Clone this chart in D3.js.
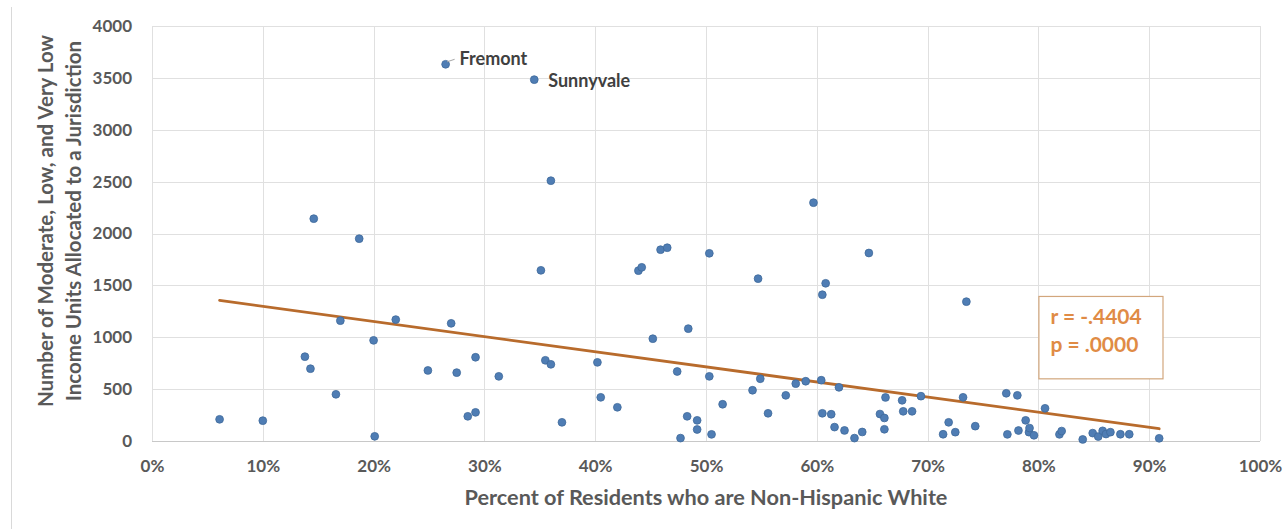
<!DOCTYPE html>
<html>
<head>
<meta charset="utf-8">
<script src="https://cdn.jsdelivr.net/npm/d3@7"></script>
<style>
  html, body { margin: 0; padding: 0; background: #ffffff; }
  svg { display: block; font-family: Lato, "Open Sans", sans-serif; }
</style>
</head>
<body>
<svg id="chart" width="1288" height="529"></svg>
<script>
// Share of residents who are non-Hispanic white, per jurisdiction (fraction)
const pctWhite = [
  0.061, 0.100, 0.138, 0.143, 0.146, 0.166, 0.170, 0.187, 0.200, 0.201,
  0.220, 0.249, 0.265, 0.270, 0.275, 0.285, 0.292, 0.292, 0.313, 0.345,
  0.351, 0.355, 0.360, 0.360, 0.370, 0.402, 0.405, 0.420, 0.439, 0.442,
  0.452, 0.459, 0.465, 0.474, 0.477, 0.483, 0.484, 0.492, 0.492, 0.503,
  0.503, 0.505, 0.515, 0.542, 0.547, 0.549, 0.556, 0.572, 0.581, 0.590,
  0.597, 0.604, 0.605, 0.605, 0.608, 0.613, 0.616, 0.620, 0.625, 0.634,
  0.641, 0.647, 0.657, 0.661, 0.661, 0.662, 0.677, 0.678, 0.686, 0.694,
  0.714, 0.719, 0.725, 0.732, 0.735, 0.743, 0.771, 0.772, 0.781, 0.782,
  0.7885, 0.7915, 0.792, 0.796, 0.806, 0.819, 0.821, 0.840, 0.849, 0.854,
  0.858, 0.861, 0.865, 0.874, 0.882, 0.909
];
// Moderate, low and very low income units allocated to each jurisdiction
const units = [
  209, 196, 813, 697, 2143, 450, 1160, 1950, 970, 45,
  1170, 680, 3631, 1134, 659, 238, 276, 807, 623, 3483,
  1645, 778, 739, 2509, 180, 758, 421, 325, 1642, 1674,
  986, 1844, 1863, 670, 28, 238, 1083, 199, 111, 1809,
  623, 64, 354, 489, 1565, 600, 267, 440, 553, 576,
  2297, 586, 1410, 267, 1520, 258, 134, 517, 102, 28,
  87, 1812, 260, 222, 113, 420, 392, 286, 286, 432,
  65, 180, 85, 421, 1343, 143, 460, 64, 440, 101,
  199, 85, 125, 55, 315, 64, 96, 15, 76, 43,
  98, 67, 85, 65, 65, 26
];
// Named jurisdictions (index into the arrays above)
const calloutNames = ["Fremont", "Sunnyvale"];
const calloutIndex = [12, 19];

const xTicks = [0, 0.1, 0.2, 0.3, 0.4, 0.5, 0.6, 0.7, 0.8, 0.9, 1.0];
const yTicks = [0, 500, 1000, 1500, 2000, 2500, 3000, 3500, 4000];
const statLines = ["r = -.4404", "p = .0000"];

const W = 1288, H = 529;
const margin = { top: 26, right: 28, bottom: 88, left: 152 };
const iw = W - margin.left - margin.right;
const ih = H - margin.top - margin.bottom;

const svg = d3.select("#chart");

// Outer chart-area edge on the left
svg.append("line")
  .attr("x1", 11.5).attr("x2", 11.5).attr("y1", 7).attr("y2", H)
  .attr("stroke", "#d9d9d9").attr("stroke-width", 1);

const g = svg.append("g").attr("transform", `translate(${margin.left},${margin.top})`);

const x = d3.scaleLinear().domain([0, 1]).range([0, iw]);
const y = d3.scaleLinear().domain([0, 4000]).range([ih, 0]);

// Gridlines
g.append("g")
  .selectAll("line.h")
  .data(yTicks)
  .join("line")
  .attr("x1", 0).attr("x2", iw)
  .attr("y1", d => Math.round(y(d)) + 0.5).attr("y2", d => Math.round(y(d)) + 0.5)
  .attr("stroke", d => d === 0 ? "#c8c8c8" : "#e0e0e0")
  .attr("stroke-width", 1);

g.append("g")
  .selectAll("line.v")
  .data(xTicks)
  .join("line")
  .attr("y1", 0).attr("y2", ih)
  .attr("x1", d => Math.round(x(d)) + 0.5).attr("x2", d => Math.round(x(d)) + 0.5)
  .attr("stroke", "#e0e0e0")
  .attr("stroke-width", 1);

// Axes (labels only)
const xAxis = g.append("g")
  .attr("transform", `translate(0,${ih})`)
  .call(d3.axisBottom(x).tickValues(xTicks).tickFormat(d3.format(".0%")).tickSize(0).tickPadding(19));
const yAxis = g.append("g")
  .call(d3.axisLeft(y).tickValues(yTicks).tickFormat(d => d).tickSize(0).tickPadding(20));
[xAxis, yAxis].forEach(a => {
  a.select(".domain").remove();
  a.selectAll("text")
    .attr("fill", "#595959")
    .style("font-family", "Lato, sans-serif")
    .style("font-size", "17px")
    .style("font-weight", "700");
});

// Least-squares trend line over the observed range
const n = pctWhite.length;
const mx = d3.mean(pctWhite), my = d3.mean(units);
let sxy = 0, sxx = 0;
for (let i = 0; i < n; i++) {
  sxy += (pctWhite[i] - mx) * (units[i] - my);
  sxx += (pctWhite[i] - mx) ** 2;
}
const slope = sxy / sxx, intercept = my - slope * mx;
const xr = d3.extent(pctWhite);
const trend = xr.map(v => [v, intercept + slope * v]);

g.append("path")
  .datum(trend)
  .attr("d", d3.line().x(d => x(d[0])).y(d => y(d[1])))
  .attr("fill", "none")
  .attr("stroke", "#B86B2C")
  .attr("stroke-width", 2.8)
  .attr("stroke-linecap", "round");

// Points
const pts = pctWhite.map((v, i) => ({ x: v, y: units[i] }));
g.append("g")
  .selectAll("circle")
  .data(pts)
  .join("circle")
  .attr("cx", d => x(d.x))
  .attr("cy", d => y(d.y))
  .attr("r", 3.9)
  .attr("fill", "#4F7DB4")
  .attr("stroke", "#3F6A9A")
  .attr("stroke-width", 0.8);

// Callout labels
calloutIndex.forEach((idx, k) => {
  const px = x(pctWhite[idx]), py = y(units[idx]);
  if (k === 0) {
    g.append("line")
      .attr("x1", px + 1.5).attr("y1", py - 2.5)
      .attr("x2", px + 9).attr("y2", py - 5)
      .attr("stroke", "#a6a6a6").attr("stroke-width", 1);
    g.append("text")
      .attr("x", px + 14).attr("y", py + 1)
      .attr("fill", "#404040")
      .style("font-size", "18px").style("font-weight", "700")
      .text(calloutNames[k]);
  } else {
    g.append("text")
      .attr("x", px + 14).attr("y", py + 7)
      .attr("fill", "#404040")
      .style("font-size", "18px").style("font-weight", "700")
      .text(calloutNames[k]);
  }
});

// Correlation annotation box
const bx0 = x(0.80), bx1 = x(0.912), by0 = y(1398), by1 = y(604);
g.append("rect")
  .attr("x", bx0 + 0.5).attr("y", by0 + 0.5)
  .attr("width", bx1 - bx0).attr("height", by1 - by0)
  .attr("fill", "#ffffff")
  .attr("stroke", "#D2A67C").attr("stroke-width", 1.2);
statLines.forEach((t, i) => {
  g.append("text")
    .attr("x", bx0 + 12)
    .attr("y", by0 + 28 + i * 28.5)
    .attr("fill", "#E08B45")
    .style("font-size", "21px").style("font-weight", "700")
    .text(t);
});

// Axis titles
svg.append("text")
  .attr("x", margin.left + iw / 2)
  .attr("y", 505)
  .attr("text-anchor", "middle")
  .attr("fill", "#595959")
  .style("font-size", "21.7px").style("font-weight", "700")
  .text("Percent of Residents who are Non-Hispanic White");

const yTitle = svg.append("text")
  .attr("transform", "translate(0,221) rotate(-90)")
  .attr("text-anchor", "middle")
  .attr("fill", "#595959")
  .style("font-size", "20.5px").style("font-weight", "700");
yTitle.append("tspan").attr("x", 0).attr("y", 53).text("Number of Moderate, Low, and Very Low");
yTitle.append("tspan").attr("x", 0).attr("y", 81).text("Income Units Allocated to a Jurisdiction");
</script>
</body>
</html>
